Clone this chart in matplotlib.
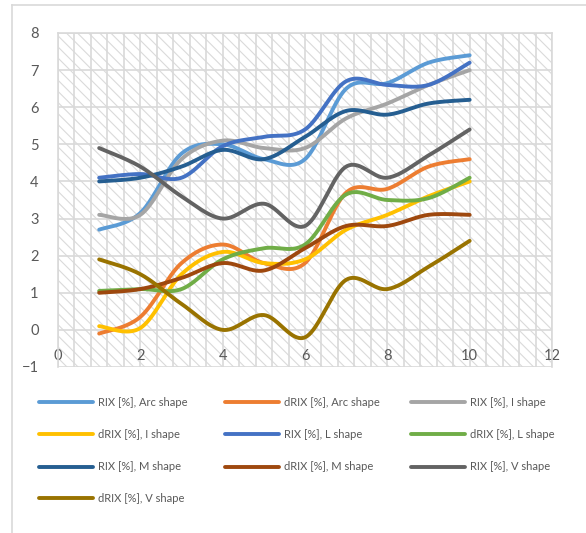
import numpy as np
import matplotlib
matplotlib.use("Agg")
import matplotlib.pyplot as plt
from matplotlib.patches import Rectangle
from matplotlib.lines import Line2D
from matplotlib.ticker import MultipleLocator

plt.rcParams['font.family'] = ['Lato', 'DejaVu Sans']
plt.rcParams['hatch.linewidth'] = 0.8

x_vals = [1, 2, 3, 4, 5, 6, 7, 8, 9, 10]

rix_arc = [2.7, 3.15, 4.75, 5.0, 4.6, 4.6, 6.5, 6.65, 7.2, 7.4]
drix_arc = [-0.1, 0.35, 1.8, 2.3, 1.8, 1.8, 3.7, 3.8, 4.4, 4.6]
rix_i = [3.1, 3.1, 4.6, 5.1, 4.9, 4.9, 5.7, 6.1, 6.6, 7.0]
drix_i = [0.1, 0.05, 1.5, 2.1, 1.8, 1.9, 2.7, 3.1, 3.6, 4.0]
rix_l = [4.1, 4.2, 4.1, 4.95, 5.2, 5.4, 6.7, 6.6, 6.6, 7.2]
drix_l = [1.05, 1.1, 1.1, 1.9, 2.2, 2.3, 3.65, 3.5, 3.55, 4.1]
rix_m = [4.0, 4.1, 4.4, 4.85, 4.6, 5.2, 5.9, 5.8, 6.1, 6.2]
drix_m = [1.0, 1.1, 1.4, 1.8, 1.6, 2.2, 2.8, 2.8, 3.1, 3.1]
rix_v = [4.9, 4.4, 3.6, 3.0, 3.4, 2.8, 4.4, 4.1, 4.7, 5.4]
drix_v = [1.9, 1.5, 0.7, 0.0, 0.4, -0.2, 1.35, 1.1, 1.7, 2.4]

series_labels = [
    "RIX [%], Arc shape", "dRIX [%], Arc shape", "RIX [%], I shape",
    "dRIX [%], I shape", "RIX [%], L shape", "dRIX [%], L shape",
    "RIX [%], M shape", "dRIX [%], M shape", "RIX [%], V shape",
    "dRIX [%], V shape",
]
series_values = [rix_arc, drix_arc, rix_i, drix_i, rix_l, drix_l,
                 rix_m, drix_m, rix_v, drix_v]
series_colors = ["#5B9BD5", "#ED7D31", "#A5A5A5", "#FFC000", "#4472C4",
                 "#70AD47", "#255E91", "#9E480E", "#636363", "#997300"]

x_ticks = [0, 2, 4, 6, 8, 10, 12]
y_ticks = [-1, 0, 1, 2, 3, 4, 5, 6, 7, 8]


def smooth(xs, ys, n=40):
    """Cardinal Bezier smoothing through every point (spreadsheet-style)."""
    xs = np.asarray(xs, float)
    ys = np.asarray(ys, float)
    pts = np.column_stack([xs, ys])
    m = len(pts)
    out = []
    t = np.linspace(0, 1, n)[:, None]
    for i in range(m - 1):
        p0 = pts[max(i - 1, 0)]
        p1 = pts[i]
        p2 = pts[i + 1]
        p3 = pts[min(i + 2, m - 1)]
        c1 = p1 + (p2 - p0) / 6.0
        c2 = p2 - (p3 - p1) / 6.0
        seg = ((1 - t) ** 3) * p1 + 3 * ((1 - t) ** 2) * t * c1 \
            + 3 * (1 - t) * t ** 2 * c2 + t ** 3 * p2
        out.append(seg if i == 0 else seg[1:])
    seg = np.vstack(out)
    return seg[:, 0], seg[:, 1]


W, H = 586, 533
fig = plt.figure(figsize=(W / 100, H / 100), dpi=100)

# outer chart frame (left and top edges)
fig.add_artist(Line2D([12 / W, 12 / W], [0, 1 - 4.5 / H],
                      color="#D9D9D9", lw=1.2))
fig.add_artist(Line2D([12 / W, 1], [1 - 4.5 / H, 1 - 4.5 / H],
                      color="#D9D9D9", lw=1.2))

ax = fig.add_axes([58 / W, 1 - 367 / H, (552 - 58) / W, (367 - 33) / H])
ax.set_xlim(0, 12)
ax.set_ylim(-1, 8)

# patterned plot area
ax.patch.set_facecolor("white")
ax.add_patch(Rectangle((0, 0), 1, 1, transform=ax.transAxes,
                       facecolor="white", edgecolor="#DADADA",
                       hatch="\\\\\\", lw=0, zorder=0))

ax.xaxis.set_major_locator(MultipleLocator(2))
ax.xaxis.set_minor_locator(MultipleLocator(0.4))
ax.set_xticks(x_ticks)
ax.set_yticks(y_ticks)
ax.grid(which="major", axis="both", color="#D9D9D9", lw=1.2, zorder=1)
ax.grid(which="minor", axis="x", color="#D9D9D9", lw=1.2, zorder=1)
ax.set_axisbelow(True)

for s in ax.spines.values():
    s.set_color("#D9D9D9")
    s.set_linewidth(1.2)

# horizontal axis crosses at zero
ax.spines["bottom"].set_position(("data", 0))
ax.spines["bottom"].set_visible(False)
ax.tick_params(axis="both", which="both", length=0, colors="#595959",
               labelsize=10.5)
ax.tick_params(axis="x", pad=14)
ax.tick_params(axis="y", pad=14)

for vals, col in zip(series_values, series_colors):
    sx, sy = smooth(x_vals, vals)
    ax.plot(sx, sy, color=col, lw=2.8, solid_capstyle="round", zorder=3)

# legend laid out in three columns beneath the plot
col_x = [39, 225, 411]
row_y = [402, 434, 467, 498]
for i, (lab, col) in enumerate(zip(series_labels, series_colors)):
    r, c = divmod(i, 3)
    x0 = col_x[c]
    y0 = 1 - row_y[r] / H
    fig.add_artist(Line2D([x0 / W, (x0 + 54) / W], [y0, y0], color=col,
                          lw=2.8, solid_capstyle="round"))
    fig.text((x0 + 59) / W, y0, lab, fontsize=8, color="#595959",
             va="center", ha="left")

fig.savefig("out.png", dpi=100)
